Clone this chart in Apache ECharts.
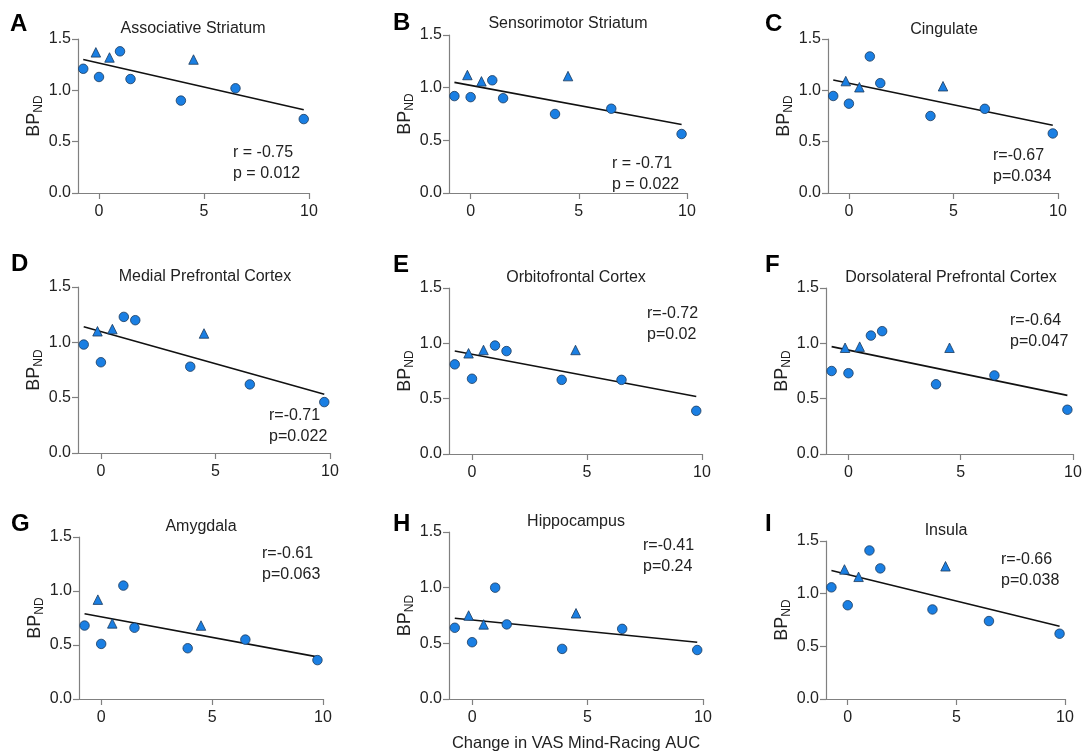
<!DOCTYPE html>
<html>
<head>
<meta charset="utf-8">
<script src="https://cdn.jsdelivr.net/npm/echarts@6/dist/echarts.min.js"></script>
<style>
  html, body { margin: 0; padding: 0; background: #fff; }
  #main { width: 1087px; height: 753px; }
</style>
</head>
<body>
<div id="main"></div>
<script>
// x values are the same subjects in every panel
var xCircle = [-0.75, 0, 1.0, 1.5, 3.9, 6.5, 9.75];
var xTriangle = [-0.15, 0.5, 4.5];
var xLine = [-0.75, 9.75];

var letters = ['A', 'B', 'C', 'D', 'E', 'F', 'G', 'H', 'I'];
var regions = ['Associative Striatum', 'Sensorimotor Striatum', 'Cingulate',
    'Medial Prefrontal Cortex', 'Orbitofrontal Cortex', 'Dorsolateral Prefrontal Cortex',
    'Amygdala', 'Hippocampus', 'Insula'];

var yCircleA = [1.21, 1.13, 1.38, 1.11, 0.90, 1.02, 0.72];
var yCircleB = [0.92, 0.91, 1.07, 0.90, 0.75, 0.80, 0.56];
var yCircleC = [0.945, 0.87, 1.33, 1.07, 0.75, 0.82, 0.58];
var yCircleD = [0.98, 0.82, 1.23, 1.20, 0.78, 0.62, 0.46];
var yCircleE = [0.81, 0.68, 0.98, 0.93, 0.67, 0.67, 0.39];
var yCircleF = [0.75, 0.73, 1.07, 1.11, 0.63, 0.71, 0.40];
var yCircleG = [0.68, 0.51, 1.05, 0.66, 0.47, 0.55, 0.36];
var yCircleH = [0.64, 0.51, 1.00, 0.67, 0.45, 0.63, 0.44];
var yCircleI = [1.06, 0.89, 1.41, 1.24, 0.85, 0.74, 0.62];

var yTriA = [1.37, 1.32, 1.30];
var yTriB = [1.12, 1.06, 1.11];
var yTriC = [1.09, 1.03, 1.04];
var yTriD = [1.10, 1.12, 1.08];
var yTriE = [0.91, 0.94, 0.94];
var yTriF = [0.96, 0.97, 0.96];
var yTriG = [0.92, 0.70, 0.68];
var yTriH = [0.75, 0.67, 0.77];
var yTriI = [1.23, 1.16, 1.26];

// fitted line, read at its two ends
var yLineA = [1.30, 0.81];
var yLineB = [1.05, 0.65];
var yLineC = [1.10, 0.66];
var yLineD = [1.14, 0.53];
var yLineE = [0.93, 0.52];
var yLineF = [0.97, 0.53];
var yLineG = [0.79, 0.39];
var yLineH = [0.725, 0.51];
var yLineI = [1.22, 0.69];

var rText = ['r = -0.75', 'r = -0.71', 'r=-0.67', 'r=-0.71', 'r=-0.72', 'r=-0.64', 'r=-0.61', 'r=-0.41', 'r=-0.66'];
var pText = ['p = 0.012', 'p = 0.022', 'p=0.034', 'p=0.022', 'p=0.02', 'p=0.047', 'p=0.063', 'p=0.24', 'p=0.038'];

var xTicks = [0, 5, 10];

var yCircles = [yCircleA, yCircleB, yCircleC, yCircleD, yCircleE, yCircleF, yCircleG, yCircleH, yCircleI];
var yTris = [yTriA, yTriB, yTriC, yTriD, yTriE, yTriF, yTriG, yTriH, yTriI];
var yLines = [yLineA, yLineB, yLineC, yLineD, yLineE, yLineF, yLineG, yLineH, yLineI];

// layout: [left, top, width, height] of each plot area
var grids = [
    [78, 39, 231, 154], [449, 35, 238, 158], [828, 39, 230, 154],
    [78, 287, 252, 166], [449, 288, 253, 166], [826, 288, 247, 166],
    [79, 537, 244, 162], [449, 532, 254, 168], [826, 541, 239, 158]
];
var titlePos = [[193, 30], [568, 25], [944, 31], [205, 278], [576, 279], [951, 279], [201, 528], [576, 523], [946, 532]];
var letterPos = [[10, 24], [393, 23], [765, 24], [11, 264], [393, 265], [765, 265], [11, 524], [393, 524], [765, 524]];
var statPos = [[233, 152], [612, 163], [993, 155], [269, 415], [647, 313], [1010, 320], [262, 553], [643, 545], [1001, 559]];

var FONT = '"Liberation Sans", Arial, sans-serif';
var axisColor = '#808080';
var txtColor = '#222';

function zip(xs, ys) {
    var out = [];
    for (var i = 0; i < xs.length; i++) out.push([xs[i], ys[i]]);
    return out;
}

var option = {
    animation: false,
    backgroundColor: '#fff',
    textStyle: { fontFamily: FONT },
    grid: [], xAxis: [], yAxis: [], series: [], title: [], graphic: []
};

for (var k = 0; k < 9; k++) {
    var g = grids[k];
    option.grid.push({ left: g[0], top: g[1], width: g[2], height: g[3] });
    option.xAxis.push({
        type: 'value', gridIndex: k, min: -1, max: 10,
        name: k === 7 ? 'Change in VAS Mind-Racing AUC' : '',
        nameLocation: 'middle', nameGap: 36,
        nameTextStyle: { fontSize: 16.5, color: txtColor, fontFamily: FONT },
        splitLine: { show: false },
        axisLine: { onZero: false, lineStyle: { color: axisColor, width: 1.2 } },
        axisTick: { customValues: xTicks, length: 6, lineStyle: { color: axisColor, width: 1.2 } },
        axisLabel: { customValues: xTicks, fontSize: 16, color: txtColor, margin: 11, fontFamily: FONT }
    });
    option.yAxis.push({
        type: 'value', gridIndex: k, min: 0, max: 1.5, interval: 0.5,
        name: '{a|BP}{b|ND}',
        nameLocation: 'middle', nameGap: 27, nameRotate: 90,
        nameTextStyle: {
            rich: {
                a: { fontSize: 18, color: txtColor, fontFamily: FONT, lineHeight: 22, verticalAlign: 'middle' },
                b: { fontSize: 12, color: txtColor, fontFamily: FONT, lineHeight: 12, verticalAlign: 'bottom', padding: [8, 0, 0, 0] }
            }
        },
        splitLine: { show: false },
        axisLine: { show: true, onZero: false, lineStyle: { color: axisColor, width: 1.2 } },
        axisTick: { show: true, length: 6, lineStyle: { color: axisColor, width: 1.2 } },
        axisLabel: {
            fontSize: 16, color: txtColor, margin: 7, fontFamily: FONT,
            formatter: function (v) { return v.toFixed(1); }
        }
    });
    option.series.push({
        type: 'line', xAxisIndex: k, yAxisIndex: k,
        data: zip(xLine, yLines[k]), symbol: 'none',
        lineStyle: { color: '#111', width: 1.6 }, z: 2
    });
    option.series.push({
        type: 'scatter', xAxisIndex: k, yAxisIndex: k,
        data: zip(xCircle, yCircles[k]), symbol: 'circle', symbolSize: 9.5,
        itemStyle: { color: '#1a7fe3', borderColor: '#1c3a5c', borderWidth: 0.8, opacity: 1 }, z: 3
    });
    option.series.push({
        type: 'scatter', xAxisIndex: k, yAxisIndex: k,
        data: zip(xTriangle, yTris[k]), symbol: 'triangle', symbolSize: 9.5,
        itemStyle: { color: '#1a7fe3', borderColor: '#1c3a5c', borderWidth: 0.8, opacity: 1 }, z: 3
    });
    option.title.push({
        text: regions[k], left: titlePos[k][0], top: titlePos[k][1] - 9,
        textAlign: 'center', padding: 0,
        textStyle: { fontSize: 16, fontWeight: 'normal', color: txtColor, fontFamily: FONT }
    });
    option.graphic.push({
        type: 'text', left: letterPos[k][0], top: letterPos[k][1] - 12,
        style: { text: letters[k], font: 'bold 24px ' + FONT, fill: '#000' }
    });
    option.graphic.push({
        type: 'text', left: statPos[k][0], top: statPos[k][1] - 10,
        style: { text: rText[k] + '\n' + pText[k], font: '16px ' + FONT, fill: txtColor, lineHeight: 21 }
    });
}

var chart = echarts.init(document.getElementById('main'));
chart.setOption(option);
</script>
</body>
</html>
